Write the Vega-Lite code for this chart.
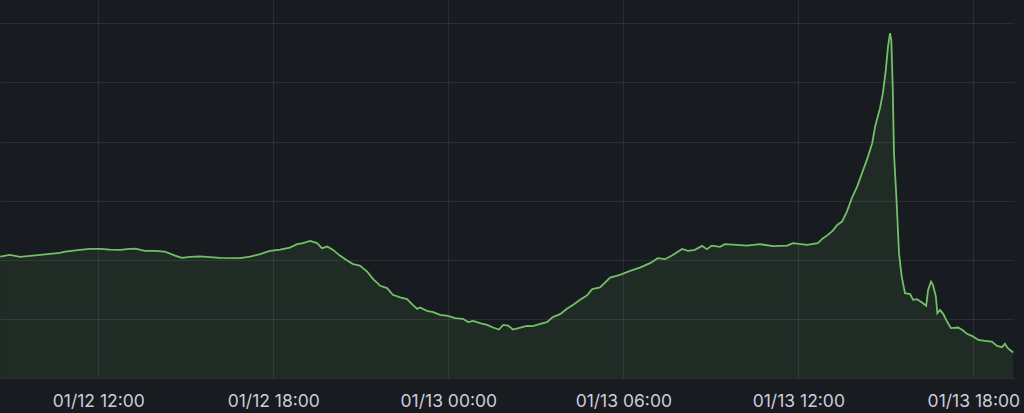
{
  "$schema": "https://vega.github.io/schema/vega-lite/v6.json",
  "width": 1014,
  "height": 378,
  "autosize": "none",
  "padding": {"left": 0, "top": 0, "right": 10, "bottom": 35},
  "background": "#181b1f",
  "config": {"view": {"stroke": null}},
  "data": {"values": [
    {"t": "2024-01-12T08:38", "v": 2.054},
    {"t": "2024-01-12T08:58", "v": 2.083},
    {"t": "2024-01-12T09:19", "v": 2.049},
    {"t": "2024-01-12T09:40", "v": 2.066},
    {"t": "2024-01-12T10:00", "v": 2.083},
    {"t": "2024-01-12T10:21", "v": 2.100},
    {"t": "2024-01-12T10:41", "v": 2.117},
    {"t": "2024-01-12T10:52", "v": 2.139},
    {"t": "2024-01-12T11:22", "v": 2.167},
    {"t": "2024-01-12T11:43", "v": 2.184},
    {"t": "2024-01-12T12:04", "v": 2.184},
    {"t": "2024-01-12T12:24", "v": 2.172},
    {"t": "2024-01-12T12:45", "v": 2.167},
    {"t": "2024-01-12T13:05", "v": 2.184},
    {"t": "2024-01-12T13:16", "v": 2.189},
    {"t": "2024-01-12T13:36", "v": 2.150},
    {"t": "2024-01-12T13:57", "v": 2.150},
    {"t": "2024-01-12T14:17", "v": 2.139},
    {"t": "2024-01-12T14:38", "v": 2.071},
    {"t": "2024-01-12T14:52", "v": 2.032},
    {"t": "2024-01-12T15:09", "v": 2.049},
    {"t": "2024-01-12T15:29", "v": 2.057},
    {"t": "2024-01-12T16:10", "v": 2.032},
    {"t": "2024-01-12T16:52", "v": 2.027},
    {"t": "2024-01-12T17:12", "v": 2.054},
    {"t": "2024-01-12T17:33", "v": 2.095},
    {"t": "2024-01-12T17:53", "v": 2.150},
    {"t": "2024-01-12T18:14", "v": 2.172},
    {"t": "2024-01-12T18:34", "v": 2.206},
    {"t": "2024-01-12T18:49", "v": 2.264},
    {"t": "2024-01-12T19:01", "v": 2.281},
    {"t": "2024-01-12T19:16", "v": 2.320},
    {"t": "2024-01-12T19:30", "v": 2.281},
    {"t": "2024-01-12T19:40", "v": 2.196},
    {"t": "2024-01-12T19:51", "v": 2.223},
    {"t": "2024-01-12T20:03", "v": 2.167},
    {"t": "2024-01-12T20:17", "v": 2.071},
    {"t": "2024-01-12T20:32", "v": 1.986},
    {"t": "2024-01-12T20:44", "v": 1.926},
    {"t": "2024-01-12T20:58", "v": 1.902},
    {"t": "2024-01-12T21:13", "v": 1.801},
    {"t": "2024-01-12T21:25", "v": 1.677},
    {"t": "2024-01-12T21:40", "v": 1.559},
    {"t": "2024-01-12T21:54", "v": 1.520},
    {"t": "2024-01-12T22:06", "v": 1.407},
    {"t": "2024-01-12T22:21", "v": 1.364},
    {"t": "2024-01-12T22:35", "v": 1.334},
    {"t": "2024-01-12T22:47", "v": 1.238},
    {"t": "2024-01-12T22:56", "v": 1.170},
    {"t": "2024-01-12T23:02", "v": 1.192},
    {"t": "2024-01-12T23:16", "v": 1.136},
    {"t": "2024-01-12T23:29", "v": 1.114},
    {"t": "2024-01-12T23:43", "v": 1.068},
    {"t": "2024-01-12T23:59", "v": 1.052},
    {"t": "2024-01-13T00:14", "v": 1.013},
    {"t": "2024-01-13T00:30", "v": 1.001},
    {"t": "2024-01-13T00:41", "v": 0.945},
    {"t": "2024-01-13T00:51", "v": 0.967},
    {"t": "2024-01-13T01:05", "v": 0.928},
    {"t": "2024-01-13T01:20", "v": 0.899},
    {"t": "2024-01-13T01:32", "v": 0.854},
    {"t": "2024-01-13T01:44", "v": 0.820},
    {"t": "2024-01-13T01:53", "v": 0.899},
    {"t": "2024-01-13T02:03", "v": 0.888},
    {"t": "2024-01-13T02:13", "v": 0.820},
    {"t": "2024-01-13T02:28", "v": 0.854},
    {"t": "2024-01-13T02:42", "v": 0.883},
    {"t": "2024-01-13T02:54", "v": 0.877},
    {"t": "2024-01-13T03:09", "v": 0.916},
    {"t": "2024-01-13T03:23", "v": 0.945},
    {"t": "2024-01-13T03:35", "v": 1.030},
    {"t": "2024-01-13T03:50", "v": 1.080},
    {"t": "2024-01-13T04:04", "v": 1.170},
    {"t": "2024-01-13T04:17", "v": 1.238},
    {"t": "2024-01-13T04:31", "v": 1.322},
    {"t": "2024-01-13T04:45", "v": 1.395},
    {"t": "2024-01-13T04:56", "v": 1.503},
    {"t": "2024-01-13T05:12", "v": 1.533},
    {"t": "2024-01-13T05:33", "v": 1.699},
    {"t": "2024-01-13T05:53", "v": 1.745},
    {"t": "2024-01-13T06:14", "v": 1.812},
    {"t": "2024-01-13T06:34", "v": 1.868},
    {"t": "2024-01-13T06:55", "v": 1.943},
    {"t": "2024-01-13T07:11", "v": 2.027},
    {"t": "2024-01-13T07:26", "v": 2.010},
    {"t": "2024-01-13T07:40", "v": 2.071},
    {"t": "2024-01-13T08:01", "v": 2.184},
    {"t": "2024-01-13T08:13", "v": 2.150},
    {"t": "2024-01-13T08:27", "v": 2.167},
    {"t": "2024-01-13T08:42", "v": 2.235},
    {"t": "2024-01-13T08:52", "v": 2.179},
    {"t": "2024-01-13T09:02", "v": 2.240},
    {"t": "2024-01-13T09:19", "v": 2.218},
    {"t": "2024-01-13T09:29", "v": 2.264},
    {"t": "2024-01-13T09:54", "v": 2.252},
    {"t": "2024-01-13T10:14", "v": 2.240},
    {"t": "2024-01-13T10:41", "v": 2.264},
    {"t": "2024-01-13T11:08", "v": 2.230},
    {"t": "2024-01-13T11:37", "v": 2.240},
    {"t": "2024-01-13T11:49", "v": 2.281},
    {"t": "2024-01-13T12:18", "v": 2.252},
    {"t": "2024-01-13T12:40", "v": 2.281},
    {"t": "2024-01-13T12:51", "v": 2.365},
    {"t": "2024-01-13T13:01", "v": 2.421},
    {"t": "2024-01-13T13:11", "v": 2.494},
    {"t": "2024-01-13T13:20", "v": 2.590},
    {"t": "2024-01-13T13:30", "v": 2.646},
    {"t": "2024-01-13T13:40", "v": 2.815},
    {"t": "2024-01-13T13:50", "v": 3.041},
    {"t": "2024-01-13T14:01", "v": 3.238},
    {"t": "2024-01-13T14:11", "v": 3.464},
    {"t": "2024-01-13T14:21", "v": 3.689},
    {"t": "2024-01-13T14:32", "v": 3.971},
    {"t": "2024-01-13T14:38", "v": 4.252},
    {"t": "2024-01-13T14:48", "v": 4.563},
    {"t": "2024-01-13T14:54", "v": 4.817},
    {"t": "2024-01-13T15:00", "v": 5.211},
    {"t": "2024-01-13T15:04:30", "v": 5.604},
    {"t": "2024-01-13T15:08:36", "v": 5.831},
    {"t": "2024-01-13T15:11:18", "v": 5.718},
    {"t": "2024-01-13T15:14:12", "v": 4.928},
    {"t": "2024-01-13T15:16:48", "v": 3.802},
    {"t": "2024-01-13T15:22:24", "v": 2.957},
    {"t": "2024-01-13T15:27:06", "v": 2.112},
    {"t": "2024-01-13T15:32:42", "v": 1.716},
    {"t": "2024-01-13T15:39:30", "v": 1.435},
    {"t": "2024-01-13T15:50", "v": 1.418},
    {"t": "2024-01-13T15:56", "v": 1.322},
    {"t": "2024-01-13T16:04", "v": 1.334},
    {"t": "2024-01-13T16:14:30", "v": 1.276},
    {"t": "2024-01-13T16:23", "v": 1.221},
    {"t": "2024-01-13T16:27", "v": 1.491},
    {"t": "2024-01-13T16:33", "v": 1.631},
    {"t": "2024-01-13T16:37", "v": 1.576},
    {"t": "2024-01-13T16:43", "v": 1.378},
    {"t": "2024-01-13T16:46", "v": 1.097},
    {"t": "2024-01-13T16:51:30", "v": 1.153},
    {"t": "2024-01-13T16:58", "v": 1.085},
    {"t": "2024-01-13T17:06", "v": 0.955},
    {"t": "2024-01-13T17:14", "v": 0.844},
    {"t": "2024-01-13T17:28:30", "v": 0.854},
    {"t": "2024-01-13T17:37", "v": 0.815},
    {"t": "2024-01-13T17:47", "v": 0.747},
    {"t": "2024-01-13T17:57", "v": 0.714},
    {"t": "2024-01-13T18:10", "v": 0.646},
    {"t": "2024-01-13T18:24", "v": 0.629},
    {"t": "2024-01-13T18:38", "v": 0.617},
    {"t": "2024-01-13T18:49", "v": 0.544},
    {"t": "2024-01-13T18:59", "v": 0.522},
    {"t": "2024-01-13T19:05", "v": 0.578},
    {"t": "2024-01-13T19:11", "v": 0.505},
    {"t": "2024-01-13T19:22", "v": 0.431}
  ]},
  "encoding": {
    "x": {
      "field": "t", "type": "temporal",
      "scale": {"domain": [
        {"year": 2024, "month": 1, "date": 12, "hours": 8, "minutes": 37, "seconds": 48},
        {"year": 2024, "month": 1, "date": 13, "hours": 19, "minutes": 23, "seconds": 42}
      ]},
      "axis": {
        "title": null,
        "format": "%m/%d %H:%M",
        "values": [
          {"year": 2024, "month": 1, "date": 12, "hours": 12},
          {"year": 2024, "month": 1, "date": 12, "hours": 18},
          {"year": 2024, "month": 1, "date": 13, "hours": 0},
          {"year": 2024, "month": 1, "date": 13, "hours": 6},
          {"year": 2024, "month": 1, "date": 13, "hours": 12},
          {"year": 2024, "month": 1, "date": 13, "hours": 18}
        ],
        "grid": true, "gridColor": "#ccccdc", "gridOpacity": 0.1, "gridWidth": 1,
        "domain": false, "ticks": false,
        "labelFont": "Inter", "labelFontSize": 17.5, "labelColor": "#ccccdc",
        "labelPadding": 14, "labelOverlap": false, "labelFlush": false
      }
    },
    "y": {
      "field": "v", "type": "quantitative",
      "scale": {"domain": [0, 6.394], "nice": false},
      "axis": {
        "title": null, "labels": false, "ticks": false, "domain": false,
        "values": [0, 1, 2, 3, 4, 5, 6],
        "grid": true, "gridColor": "#ccccdc", "gridOpacity": 0.1, "gridWidth": 1
      }
    }
  },
  "layer": [
    {"mark": {"type": "area", "color": "#73bf69", "fillOpacity": 0.1}},
    {"mark": {"type": "line", "color": "#73bf69", "strokeWidth": 1.8}}
  ]
}
